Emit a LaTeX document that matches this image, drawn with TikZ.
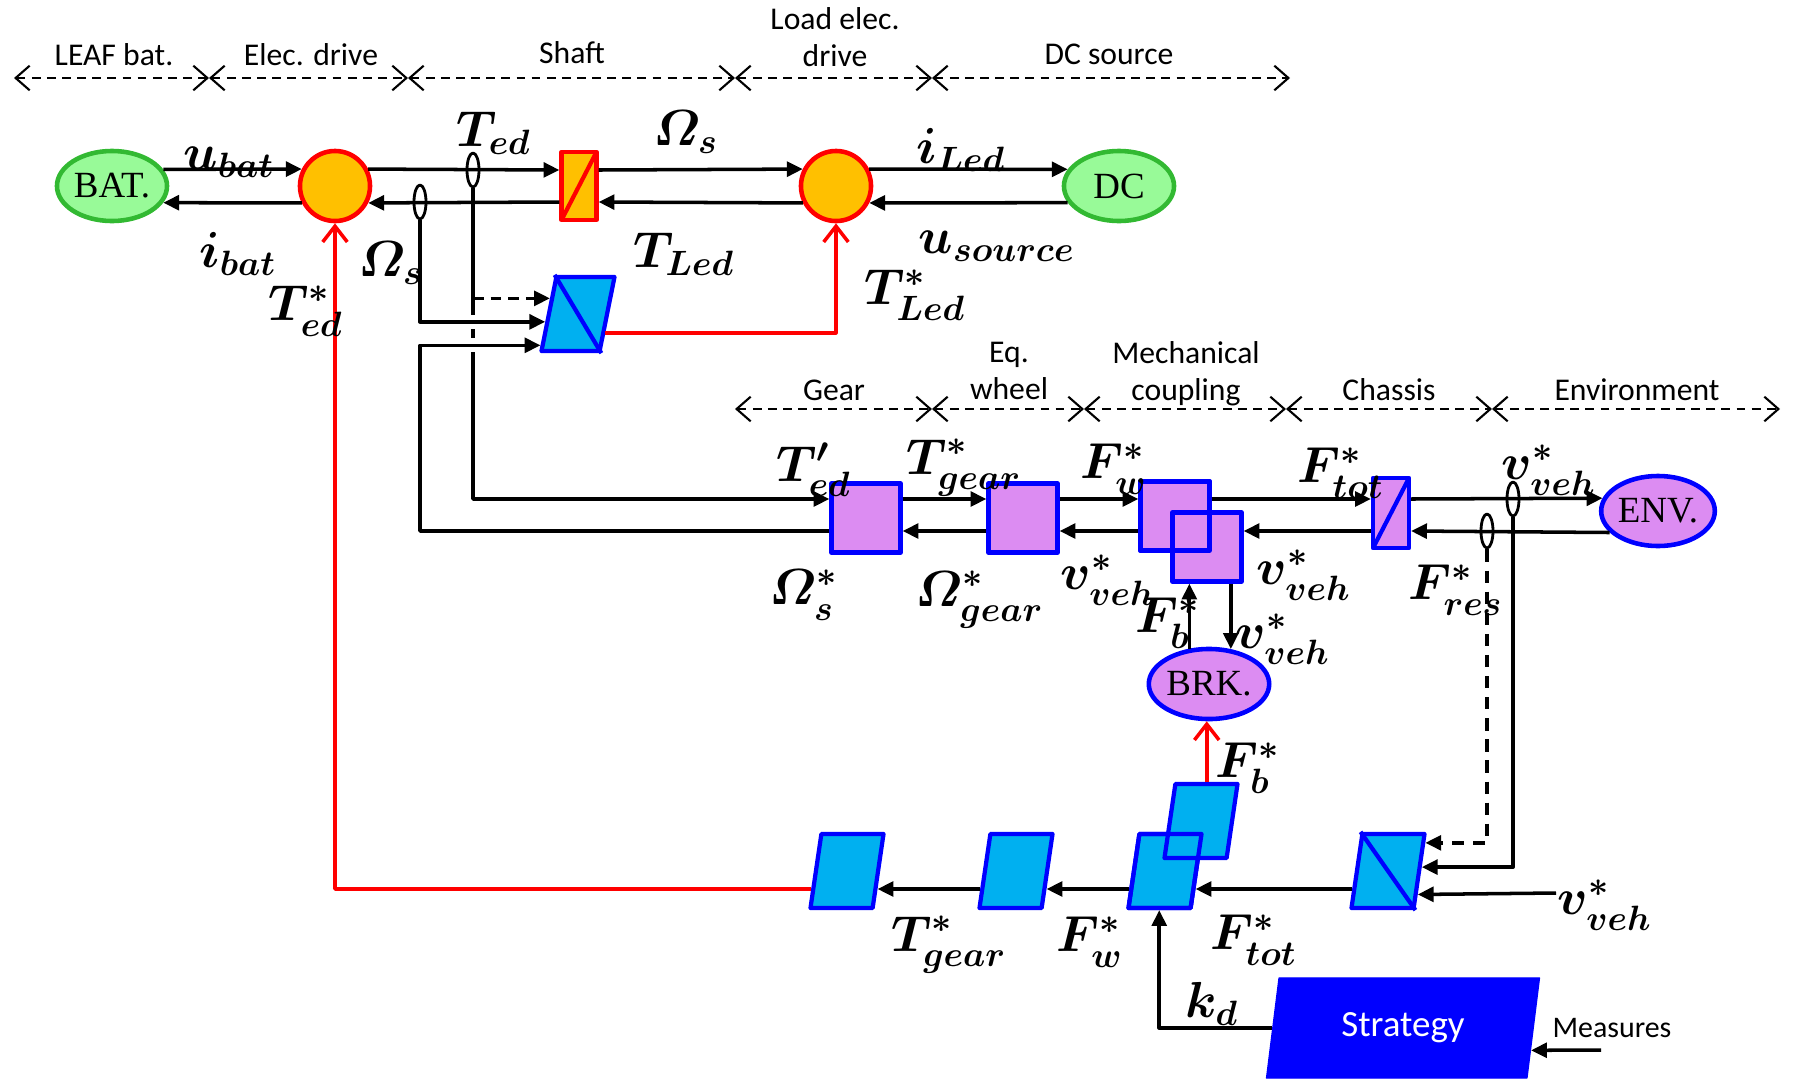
\documentclass[tikz,border=0pt]{standalone}
\usepackage{amsmath}
\usepackage[no-math]{fontspec}
\setmainfont{Carlito}
\newfontfamily\timesfont{Liberation Serif}
\usetikzlibrary{shapes.geometric,arrows.meta,calc}

\definecolor{srcgreen}{RGB}{152,250,152}
\definecolor{srcedge}{RGB}{50,185,50}
\definecolor{convorange}{RGB}{255,192,0}
\definecolor{mechpurple}{RGB}{220,140,242}
\definecolor{ctrlcyan}{RGB}{0,176,240}

\tikzset{
  srcgr/.style={ellipse, draw=srcedge, fill=srcgreen, line width=1.3pt, minimum width=1.1cm, minimum height=0.7cm, inner sep=0pt, font=\timesfont\fontsize{10.5}{12}\selectfont},
  srcpu/.style={srcgr, draw=blue, fill=mechpurple},
  conv/.style={circle, draw=red, fill=convorange, line width=1.3pt, minimum size=0.7cm, inner sep=0pt},
  convbox/.style={rectangle, draw=red, fill=convorange, line width=1.2pt, minimum width=0.35cm, minimum height=0.68cm, inner sep=0pt,
    path picture={\draw[red, line width=1.2pt] (path picture bounding box.south west) -- (path picture bounding box.north east);}},
  mech/.style={rectangle, draw=blue, fill=mechpurple, line width=1.2pt, minimum width=0.69cm, minimum height=0.69cm, inner sep=0pt},
  chbox/.style={mech, minimum width=0.36cm, minimum height=0.7cm,
    path picture={\draw[blue, line width=1.2pt] (path picture bounding box.south west) -- (path picture bounding box.north east);}},
  ctrl/.style={trapezium, trapezium left angle=78, trapezium right angle=102, trapezium stretches=true, draw=blue, fill=ctrlcyan, line width=1.2pt, minimum width=0.73cm, minimum height=0.74cm, inner sep=1pt},
  strat/.style={trapezium, trapezium left angle=80, trapezium right angle=100, trapezium stretches=true, draw=blue, fill=blue, text=white, minimum width=2.73cm, minimum height=1cm, inner sep=1pt, font=\fontsize{10.5}{12}\selectfont},
  tap/.style={ellipse, draw, fill=white, line width=0.8pt, minimum width=0.12cm, minimum height=0.34cm, inner sep=0pt},
  arr/.style={-{Triangle[length=4.5pt,width=4.2pt]}, line width=1pt},
  redarr/.style={-{Straight Barb[length=4.5pt,width=7pt]}, red, line width=1pt},
  span/.style={{Straight Barb[length=4pt,width=7pt]}-{Straight Barb[length=4pt,width=7pt]}, dash pattern=on 2.5pt off 1.8pt, line width=0.6pt},
  hop/.style={preaction={-, draw=white, line width=4pt, shorten >=6pt}},
  lbl/.style={inner sep=0pt, font=\fontsize{14.4}{17}\selectfont},
  txt/.style={inner sep=0pt, align=center, font=\fontsize{9}{10.5}\selectfont}
}

\begin{document}
\begin{tikzpicture}[x=0.01cm, y=-0.01cm, line join=round]
\useasboundingbox (0,0) rectangle (1793,1081);
% Các dải tên hệ con
\foreach \a/\b in {14/209, 209/408, 408/735, 735/932, 932/1290}
  \draw[span] (\a,78) -- (\b,78);
\foreach \a/\b in {735/932, 932/1084, 1084/1286, 1286/1492, 1492/1780}
  \draw[span] (\a,409) -- (\b,409);
\node[txt] (tleaf) at (114,55) {LEAF bat.};
\node[txt] (telec) at (311,55) {Elec. drive};
\node[txt] (tshaft) at (572,53) {Shaft};
\node[txt] (tload) at (835,37) {Load elec.\\drive};
\node[txt] (tdc) at (1109,54) {DC source};
\node[txt] (tgear) at (834,390) {Gear};
\node[txt] (twheel) at (1009,371) {Eq.\\wheel};
\node[txt] (tcoup) at (1186,374) {Mechanical\\coupling};
\node[txt] (tchas) at (1389,390) {Chassis};
\node[txt] (tenv) at (1637,390) {Environment};

% Chuỗi trên: pin, máy điện, trục, tải, nguồn DC
\coordinate (tu) at (0,170);
\coordinate (tl) at (0,202);
\node[srcgr] (bat) at (112,186) {BAT.};
\node[conv] (ed) at (335,186) {};
\node[convbox] (shaft) at (579,186) {};
\node[conv] (led) at (836,186) {};
\node[srcgr] (dc) at (1119,186) {DC};
\node[tap] (tedtap) at (473,170) {};
\node[tap] (ostap) at (420,202) {};
\draw[arr] (bat.18) -- (ed.153);
\draw[arr] (ed.207) -- (bat.-18);
\draw[arr] (ed.27) -- (shaft.west |- tu);
\draw[arr] (shaft.west |- tl) -- (ed.-27);
\draw[arr] (shaft.east |- tu) -- (led.153);
\draw[arr] (led.207) -- (shaft.east |- tl);
\draw[arr] (led.27) -- (dc.162);
\draw[arr] (dc.198) -- (led.-27);

% Khối điều khiển trục
\node[ctrl, trapezium left angle=71, trapezium right angle=109] (sc) at (578,314) {};
\draw[blue, line width=1.2pt] (sc.top left corner) -- (sc.bottom right corner);
\coordinate (scA) at ($(sc.top left corner)!0.3!(sc.bottom left corner)$);
\coordinate (scB) at ($(sc.top left corner)!0.6!(sc.bottom left corner)$);
\coordinate (scC) at ($(sc.top left corner)!0.9!(sc.bottom left corner)$);
\coordinate (scR) at ($(sc.top right corner)!0.74!(sc.bottom right corner)$);

% Chuỗi giữa: hộp số, bánh xe, khớp nối, khung xe, môi trường
\coordinate (mu) at (0,499);
\coordinate (ml) at (0,531);
\node[mech] (gear) at (866,518) {};
\node[mech] (ew) at (1023,518) {};
\node[mech] (mc1) at (1175,516) {};
\node[mech] (mc2) at (1207,547) {};
\node[mech, fill=none] (mc1b) at (mc1) {};
\node[chbox] (ch) at (1391,513) {};
\node[srcpu] (env) at (1658,511) {ENV.};
\node[srcpu] (brk) at (1209,684) {BRK.};
\node[tap] (vvtap) at (1513,499) {};
\node[tap] (frtap) at (1487,531) {};
\draw[arr] (gear.east |- mu) -- (ew.west |- mu);
\draw[arr] (ew.west |- ml) -- (gear.east |- ml);
\draw[arr] (ew.east |- mu) -- (mc1.west |- mu);
\draw[arr] (mc1.west |- ml) -- (ew.east |- ml);
\draw[arr] (mc1.east |- mu) -- (ch.west |- mu);
\draw[arr] (ch.west |- ml) -- (mc2.east |- ml);
\draw[arr] (ch.east |- mu) -- (env.167);
\draw[arr] (env.204) -- (ch.east |- ml);
\draw[arr] (brk.119) -- (brk.119 |- mc2.south);
\draw[arr] (brk.58 |- mc2.south) -- (brk.58);

% Các đường đo về khối điều khiển trục
\draw[arr] (tedtap.south) |- (gear.west |- mu);
\draw[arr, dash pattern=on 3pt off 2pt] (tedtap |- scA) -- (scA);
\draw[arr, hop] (ostap.south) |- (scB);
\draw[arr, hop] (gear.west |- ml) -| (ostap |- scC) -- (scC);
\draw[redarr] (scR) -| (led.south);

% Chuỗi điều khiển dưới
\coordinate (vin) at (1556,893);
\coordinate (meas) at (1601,1050);
\node[ctrl] (gi) at (847,871) {};
\node[ctrl] (ewi) at (1016,871) {};
\node[ctrl] (mci1) at (1165,871) {};
\node[ctrl] (mci2) at (1201,821) {};
\node[ctrl, fill=none] (mci1b) at (mci1) {};
\node[ctrl] (ci) at (1388,871) {};
\draw[blue, line width=1.2pt] (ci.top left corner) -- (ci.bottom right corner);
\node[strat] (strat) at (1403,1028) {Strategy};
\draw[arr] ($(ci.top left corner)!0.73!(ci.bottom left corner)$) -- ($(mci1.top right corner)!0.73!(mci1.bottom right corner)$);
\draw[arr] ($(mci1.top left corner)!0.73!(mci1.bottom left corner)$) -- ($(ewi.top right corner)!0.73!(ewi.bottom right corner)$);
\draw[arr] ($(ewi.top left corner)!0.73!(ewi.bottom left corner)$) -- ($(gi.top right corner)!0.73!(gi.bottom right corner)$);
\draw[redarr] ($(gi.top left corner)!0.73!(gi.bottom left corner)$) -| (ed.south);
\draw[redarr] (mci2.top side) -- (mci2.top side |- brk.south);
\draw[arr, dash pattern=on 3.5pt off 2.5pt] (frtap.south) |- ($(ci.top right corner)!0.14!(ci.bottom right corner)$);
\draw[arr] (vvtap.south) |- ($(ci.top right corner)!0.45!(ci.bottom right corner)$);
\draw[arr] (vin) -- ($(ci.top right corner)!0.8!(ci.bottom right corner)$);
\draw[arr] (strat.left side) -| (mci1.bottom side);
\draw[arr] (meas) -- ($(strat.top right corner)!0.72!(strat.bottom right corner)$);
\node[txt, font=\fontsize{8.5}{10}\selectfont] (tmeas) at (1612,1028) {Measures};

% Nhãn các biến
\node[lbl] (lubat) at (229,162) {$\boldsymbol{u_{bat}}$};
\node[lbl] (libat) at (238,254) {$\boldsymbol{i_{bat}}$};
\node[lbl] (lted) at (494,133) {$\boldsymbol{T_{ed}}$};
\node[lbl] (loms) at (686,132) {$\boldsymbol{\varOmega_{s}}$};
\node[lbl] (ltled) at (684,254) {$\boldsymbol{T_{Led}}$};
\node[lbl] (liled) at (961,150) {$\boldsymbol{i_{Led}}$};
\node[lbl] (lusrc) at (997,246) {$\boldsymbol{u_{source}}$};
\node[lbl] (ltledr) at (915,295) {$\boldsymbol{T^{*}_{Led}}$};
\node[lbl] (lomsl) at (391,263) {$\boldsymbol{\varOmega_{s}}$};
\node[lbl] (ltedr) at (306,311) {$\boldsymbol{T^{*}_{ed}}$};
\node[lbl] (ltedp) at (814,470) {$\boldsymbol{T'_{ed}}$};
\node[lbl] (ltgear) at (964,468) {$\boldsymbol{T^{*}_{gear}}$};
\node[lbl] (lfw) at (1114,469) {$\boldsymbol{F^{*}_{w}}$};
\node[lbl] (lftot) at (1341,473) {$\boldsymbol{F^{*}_{tot}}$};
\node[lbl] (lvveh) at (1549,470) {$\boldsymbol{v^{*}_{veh}}$};
\node[lbl] (lomsr) at (804,595) {$\boldsymbol{\varOmega^{*}_{s}}$};
\node[lbl] (logear) at (980,600) {$\boldsymbol{\varOmega^{*}_{gear}}$};
\node[lbl] (lvvew) at (1108,580) {$\boldsymbol{v^{*}_{veh}}$};
\node[lbl] (lvvmc) at (1304,575) {$\boldsymbol{v^{*}_{veh}}$};
\node[lbl] (lfb) at (1168,623) {$\boldsymbol{F^{*}_{b}}$};
\node[lbl] (lvvbrk) at (1283,639) {$\boldsymbol{v^{*}_{veh}}$};
\node[lbl] (lfres) at (1456,590) {$\boldsymbol{F^{*}_{res}}$};
\node[lbl] (lfbr) at (1248,768) {$\boldsymbol{F^{*}_{b}}$};
\node[lbl] (ltgearr) at (949,945) {$\boldsymbol{T^{*}_{gear}}$};
\node[lbl] (lfwr) at (1090,942) {$\boldsymbol{F^{*}_{w}}$};
\node[lbl] (lftotr) at (1254,940) {$\boldsymbol{F^{*}_{tot}}$};
\node[lbl] (lkd) at (1212,1004) {$\boldsymbol{k_{d}}$};
\node[lbl] (lvin) at (1605,905) {$\boldsymbol{v^{*}_{veh}}$};
\end{tikzpicture}
\end{document}
